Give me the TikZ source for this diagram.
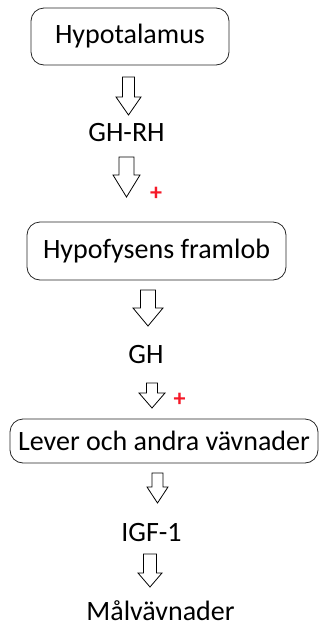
\documentclass[tikz,border=0pt]{standalone}
\usepackage{fontspec}
\setmainfont{Carlito}
\definecolor{plusred}{RGB}{245,25,40}
\newcommand\blockarrow[6]{% cx, top, headstart, tip, shaft half, head half
  \draw[barrow] (#1-#5,#2) -- (#1+#5,#2) -- (#1+#5,#3) -- (#1+#6,#3) -- (#1,#4)
    -- (#1-#6,#3) -- (#1-#5,#3) -- cycle;}
\begin{document}
\begin{tikzpicture}[x=1pt,y=-1pt,
  lbl/.style={font=\fontsize{28}{34}\selectfont, inner sep=0pt, text=black},
  boxst/.style={draw=black!85, rounded corners=13pt, line width=0.8pt, inner sep=0pt, font=\fontsize{28}{34}\selectfont},
  barrow/.style={draw, line width=0.8pt, fill=white, line join=miter},
  plussign/.style={text=plusred, inner sep=0pt, font=\bfseries\fontsize{24}{26}\selectfont}]
\useasboundingbox (0,0) rectangle (320,627);
\node[boxst, minimum width=198pt, minimum height=57pt] (hypo) at (130,36.5) {Hypotalamus};
\node[lbl] (ghrh) at (126.5,133) {GH-RH};
\node[boxst, minimum width=259pt, minimum height=58pt] (hypof) at (156.5,251) {Hypofysens framlob};
\node[lbl] (gh) at (146,355) {GH};
\node[boxst, minimum width=308pt, minimum height=44pt] (lever) at (164,441) {Lever och andra vävnader};
\node[lbl] (igf) at (151.5,533) {IGF-1};
\node[lbl] (mal) at (160.5,611) {Målvävnader};
\blockarrow{128.5}{77}{97}{115}{6}{12.5}
\blockarrow{126.5}{157}{175}{197}{7.5}{13.5}
\blockarrow{148}{290}{308}{326}{7.5}{15}
\blockarrow{152}{383}{393}{408}{5.5}{13}
\blockarrow{157.5}{473}{487}{503}{5.5}{10.5}
\blockarrow{150}{554}{573}{587}{6.5}{12}
\node[plussign] (p1) at (156,194) {+};
\node[plussign] (p2) at (179.5,400) {+};
\end{tikzpicture}
\end{document}
